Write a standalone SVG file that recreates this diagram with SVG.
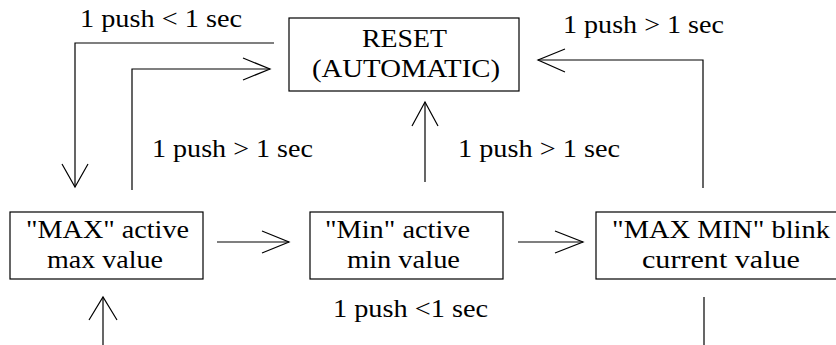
<svg xmlns="http://www.w3.org/2000/svg" width="836" height="345" viewBox="0 0 836 345">
<style>
rect.box{fill:#fff;stroke:#000;stroke-width:1.2}
text{font-family:'Times New Roman','Liberation Serif',Tinos,serif;font-size:26px;fill:#000}
.c path{fill:none;stroke:#000;stroke-width:1.2}
</style>
<rect width="836" height="345" fill="#fff"/>
<g id="reset">
<rect class="box" x="289" y="18" width="230" height="73"/>
<text x="362" y="47" textLength="85" lengthAdjust="spacingAndGlyphs">RESET</text>
<text x="312" y="77" textLength="188" lengthAdjust="spacingAndGlyphs">(AUTOMATIC)</text>
</g>
<g id="max">
<rect class="box" x="10" y="212" width="193" height="67"/>
<text x="26" y="238" textLength="163" lengthAdjust="spacingAndGlyphs">"MAX" active</text>
<text x="47" y="268" textLength="116" lengthAdjust="spacingAndGlyphs">max value</text>
</g>
<g id="min">
<rect class="box" x="310" y="212" width="193" height="67"/>
<text x="325" y="238" textLength="145" lengthAdjust="spacingAndGlyphs">"Min" active</text>
<text x="347" y="268" textLength="113" lengthAdjust="spacingAndGlyphs">min value</text>
</g>
<g id="maxmin">
<rect class="box" x="596" y="212" width="242" height="67"/>
<text x="612" y="238" textLength="218" lengthAdjust="spacingAndGlyphs">"MAX MIN" blink</text>
<text x="642" y="268" textLength="158" lengthAdjust="spacingAndGlyphs">current value</text>
</g>
<g id="connectors" class="c">
<path d="M274 43 H75 V187"/>
<path d="M62 164 L75 187 L88 164"/>
<path d="M132 190 V69 H270"/>
<path d="M243 58 L270 69 L243 80"/>
<path d="M425 182 V102"/>
<path d="M412 126 L425 102 L438 126"/>
<path d="M703 188 V60 H538"/>
<path d="M565 49 L538 60 L565 72"/>
<path d="M217 242 H289"/>
<path d="M262 231 L289 242 L262 253"/>
<path d="M518 242 H583"/>
<path d="M555 231 L583 242 L555 253"/>
<path d="M103 345 V297"/>
<path d="M89 320 L103 297 L117 320"/>
<path d="M704 297 V345"/>
</g>
<g id="labels">
<text x="80" y="27" textLength="162" lengthAdjust="spacingAndGlyphs">1 push &lt; 1 sec</text>
<text x="152" y="157" textLength="161" lengthAdjust="spacingAndGlyphs">1 push &gt; 1 sec</text>
<text x="458" y="157" textLength="162" lengthAdjust="spacingAndGlyphs">1 push &gt; 1 sec</text>
<text x="563" y="33" textLength="161" lengthAdjust="spacingAndGlyphs">1 push &gt; 1 sec</text>
<text x="333" y="317" textLength="155" lengthAdjust="spacingAndGlyphs">1 push &lt;1 sec</text>
</g>
</svg>
